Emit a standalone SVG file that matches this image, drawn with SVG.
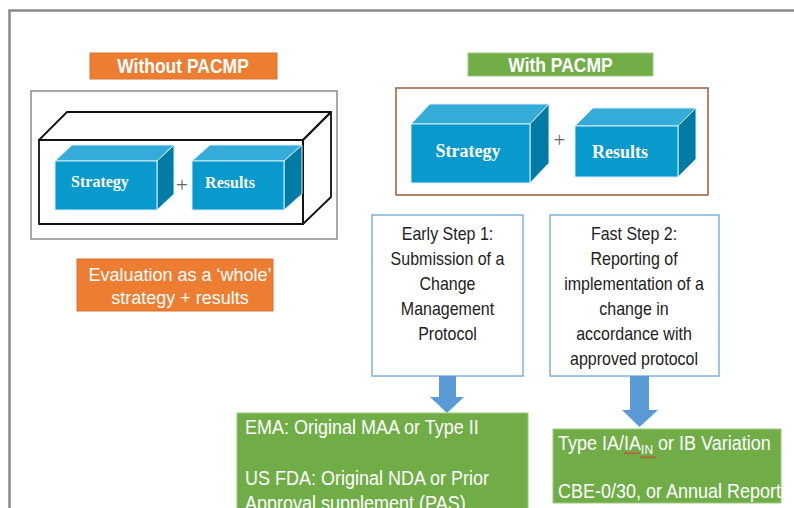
<svg xmlns="http://www.w3.org/2000/svg" width="794" height="508" viewBox="0 0 794 508">
  <style>
    .sans { font-family: "Liberation Sans", Arial, sans-serif; }
    .serif { font-family: "Liberation Serif", "Times New Roman", serif; }
    .hdr { font-size: 17.5px; font-weight: bold; fill: #ffffff; text-anchor: middle; }
    .step { font-size: 16px; fill: #222222; text-anchor: middle; }
    .wtext { font-size: 18px; fill: #ffffff; }
    .cube-label { font-weight: bold; fill: #ffffff; text-anchor: middle; }
    .plus { font-size: 21px; fill: #666666; text-anchor: middle; }
    .front { fill: #0899cd; stroke: #d5eef8; stroke-width: 1; }
    .top { fill: #35abda; stroke: #d5eef8; stroke-width: 1; }
    .side { fill: #007ba5; stroke: #d5eef8; stroke-width: 1; }
    .stepbox { fill: #ffffff; stroke: #7eb0e0; stroke-width: 1.5; }
    .green { fill: #70ad47; stroke: #9ccb7e; stroke-width: 1; }
    .orange { fill: #ed7d31; stroke: #d9732e; stroke-width: 1; }
    .wire { fill: none; stroke: #111111; stroke-width: 1.8; stroke-linejoin: round; }
    .arrow { fill: #5b9bd5; }
  </style>

  <rect width="794" height="508" fill="#ffffff"/>
  <!-- page frame -->
  <rect x="9.5" y="10.5" width="900" height="600" fill="none" stroke="#888888" stroke-width="2.5"/>

  <!-- left panel: without PACMP -->
  <g id="without-pacmp-label">
    <rect class="orange" x="90" y="53" width="187" height="26"/>
    <g transform="translate(183,72.5) scale(1,1.12)">
      <text class="sans hdr" x="0" y="0">Without PACMP</text>
    </g>
  </g>

  <g id="whole-evaluation-panel">
    <rect x="31" y="91" width="306" height="148" fill="#ffffff" stroke="#8c8c8c" stroke-width="1.5"/>
    <!-- enclosing wireframe box -->
    <polygon class="wire" points="39,140 67,112 331,112 303,140"/>
    <polygon class="wire" points="303,140 331,112 331,197 303,224"/>
    <rect class="wire" x="39" y="140" width="264" height="84"/>
    <!-- strategy cube -->
    <g id="strategy-left">
      <polygon class="top" points="55,161 72,145 174,145 157,161"/>
      <polygon class="side" points="157,161 174,145 174,194 157,210"/>
      <rect class="front" x="55" y="161" width="102" height="49"/>
      <text class="serif cube-label" x="100" y="187" font-size="16">Strategy</text>
    </g>
    <text class="serif plus" x="182" y="192">+</text>
    <!-- results cube -->
    <g id="results-left">
      <polygon class="top" points="192,161 210,145 302,145 284,161"/>
      <polygon class="side" points="284,161 302,145 302,194 284,210"/>
      <rect class="front" x="192" y="161" width="92" height="49"/>
      <text class="serif cube-label" x="230" y="188" font-size="16">Results</text>
    </g>
  </g>

  <g id="whole-evaluation-note">
    <rect class="orange" x="77" y="259" width="196" height="52"/>
    <text class="sans wtext" x="180" y="281" text-anchor="middle">Evaluation as a ‘whole’</text>
    <text class="sans wtext" x="180" y="304" text-anchor="middle">strategy + results</text>
  </g>

  <!-- right panel: with PACMP -->
  <g id="with-pacmp-label">
    <rect fill="#70ad47" stroke="#9ccb7e" stroke-width="1" x="468" y="53" width="185" height="23"/>
    <g transform="translate(560.5,72) scale(1,1.12)">
      <text class="sans hdr" x="0" y="0">With PACMP</text>
    </g>
  </g>

  <g id="split-evaluation-panel">
    <rect x="396" y="88" width="312" height="107" fill="#ffffff" stroke="#9e5b37" stroke-width="1.5"/>
    <g id="strategy-right">
      <polygon class="top" points="411,124 430,104 549,104 530,124"/>
      <polygon class="side" points="530,124 549,104 549,163 530,183"/>
      <rect class="front" x="411" y="124" width="119" height="59"/>
      <text class="serif cube-label" x="468" y="157" font-size="18">Strategy</text>
    </g>
    <text class="serif plus" x="559.5" y="147">+</text>
    <g id="results-right">
      <polygon class="top" points="575,126 593,108 696,108 678,126"/>
      <polygon class="side" points="678,126 696,108 696,159 678,177"/>
      <rect class="front" x="575" y="126" width="103" height="51"/>
      <text class="serif cube-label" x="620" y="158" font-size="18">Results</text>
    </g>
  </g>

  <!-- step boxes -->
  <g id="step-1">
    <rect class="stepbox" x="372" y="215" width="151" height="161"/>
    <g transform="translate(447.5,240) scale(1,1.15)">
      <text class="sans step" x="0" y="0">Early Step 1:</text>
      <text class="sans step" x="0" y="21.74">Submission of a</text>
      <text class="sans step" x="0" y="43.48">Change</text>
      <text class="sans step" x="0" y="65.22">Management</text>
      <text class="sans step" x="0" y="86.96">Protocol</text>
    </g>
  </g>

  <g id="step-2">
    <rect class="stepbox" x="550" y="215" width="169" height="161"/>
    <g transform="translate(634,240) scale(1,1.15)">
      <text class="sans step" x="0" y="0">Fast Step 2:</text>
      <text class="sans step" x="0" y="21.74">Reporting of</text>
      <text class="sans step" x="0" y="43.48">implementation of a</text>
      <text class="sans step" x="0" y="65.22">change in</text>
      <text class="sans step" x="0" y="86.96">accordance with</text>
      <text class="sans step" x="0" y="108.7">approved protocol</text>
    </g>
  </g>

  <!-- block arrows -->
  <g id="connectors">
    <polygon class="arrow" points="439,376 456,376 456,397 464,397 447,413 430,397 439,397"/>
    <polygon class="arrow" points="630,376 649,376 649,410 658,410 639.5,427 622,410 630,410"/>
  </g>

  <!-- outcome boxes -->
  <g id="outcome-major">
    <rect class="green" x="237" y="413" width="291" height="110"/>
    <g transform="translate(245,434) scale(1,1.12)">
      <text class="sans wtext" x="0" y="0">EMA: Original MAA or Type II</text>
      <text class="sans wtext" x="0" y="45.5">US FDA: Original NDA or Prior</text>
      <text class="sans wtext" x="0" y="67.9">Approval supplement (PAS)</text>
    </g>
  </g>

  <g id="outcome-minor">
    <rect class="green" x="553" y="429" width="228" height="74"/>
    <g transform="translate(558,450) scale(1,1.12)">
      <text class="sans wtext" x="0" y="0">Type IA/IA<tspan font-size="12" dy="3.5">IN</tspan><tspan dy="-3.5"> or IB Variation</tspan></text>
      <text class="sans wtext" x="0" y="42.9">CBE-0/30, or Annual Report</text>
    </g>
    <!-- spell-check squiggle -->
    <path d="M624,454 l2,-1.5 l2,1.5 l2,-1.5 l2,1.5 l2,-1.5 l2,1.5 l2,-1.5 l2,1.5 M640,458 l2,-1.5 l2,1.5 l2,-1.5 l2,1.5 l2,-1.5 l2,1.5 l2,-1.5 l2,1.5" fill="none" stroke="#e03030" stroke-width="1"/>
  </g>
</svg>
